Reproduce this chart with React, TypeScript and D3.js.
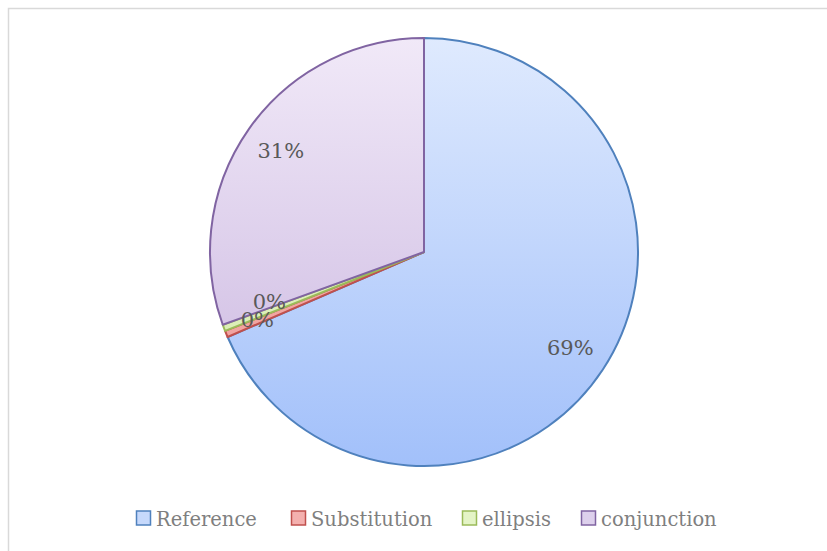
import React from 'react';
import * as d3 from 'd3';

// share of each cohesion device, in percent
const categories = ['Reference', 'Substitution', 'ellipsis', 'conjunction'];
const values = [68.5, 0.49, 0.49, 30.52];

const strokeColors = ['#4f81bd', '#c0504d', '#9bbb59', '#8064a2'];
const topColors = ['#dfeafe', '#f6b9b7', '#eaf6d2', '#f1e9f8'];
const bottomColors = ['#a2c0fa', '#ee9a97', '#d5eaab', '#c9b5df'];
const legendFill = ['#c6d9fc', '#f4b0ae', '#e4f4c6', '#ddd0ec'];

const width = 827;
const height = 551;

export default function App() {
  const cx = 424;
  const cy = 252;
  const radius = 214;

  const pie = d3.pie<number>().sort(null).value(d => d);
  const arcs = pie(values);
  const arc = d3.arc<d3.PieArcDatum<number>>().innerRadius(0).outerRadius(radius);
  const labelArc = d3.arc<d3.PieArcDatum<number>>().innerRadius(175).outerRadius(175);
  const total = d3.sum(values);

  // Excel nudges the overlapping labels of the tiny slices apart
  const nudge = (i: number) => {
    if (values[i] / total >= 0.01) return [0, 0];
    const smallBefore = values.slice(0, i).filter(v => v / total < 0.01).length;
    return smallBefore === 0 ? [-5, 1] : [9, -12];
  };

  const legendX = [136, 291, 462, 581];
  const legendY = 517;
  const box = 14;

  return (
    <div style={{position: 'absolute', left: 0, top: 0}}>
      <svg width={width} height={height} style={{display: 'block', background: '#fff'}}>
        <defs>
          {categories.map((c, i) => (
            <linearGradient key={c} id={`grad${i}`} gradientUnits="userSpaceOnUse"
              x1={0} y1={-radius} x2={0} y2={radius}>
              <stop offset="0" stopColor={topColors[i]} />
              <stop offset="1" stopColor={bottomColors[i]} />
            </linearGradient>
          ))}
        </defs>
        <rect x={8.5} y={8.5} width={width} height={height} fill="none" stroke="#d9d9d9" strokeWidth={1.5} />

        <g transform={`translate(${cx},${cy})`}>
          {arcs.map((a, i) => (
            <path key={categories[i]} d={arc(a) || ''} fill={`url(#grad${i})`}
              stroke={strokeColors[i]} strokeWidth={2} strokeLinejoin="round" />
          ))}
          {arcs.map((a, i) => {
            const [x, y] = labelArc.centroid(a);
            const [dx, dy] = nudge(i);
            return (
              <text key={'l' + i} x={x + dx} y={y + dy} textAnchor="middle" dominantBaseline="central"
                fontFamily="DejaVu Serif" fontSize={21} fill="#595959">
                {Math.round(values[i] / total * 100)}%
              </text>
            );
          })}
        </g>

        {categories.map((c, i) => (
          <g key={c} transform={`translate(${legendX[i]},${legendY})`}>
            <rect x={0.5} y={-box / 2 + 1} width={box} height={box} fill={legendFill[i]} stroke={strokeColors[i]} strokeWidth={1.5} />
            <text x={box + 6} y={3} dominantBaseline="middle" fontFamily="DejaVu Serif" fontSize={19.5} fill="#7f7f7f">{c}</text>
          </g>
        ))}
      </svg>
    </div>
  );
}
